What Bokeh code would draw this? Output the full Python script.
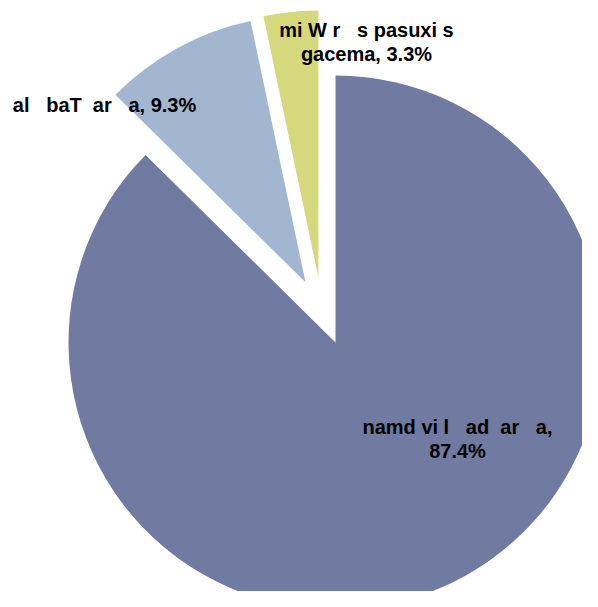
import math
from bokeh.plotting import figure
from bokeh.models import Range1d, ColumnDataSource
from bokeh.core.properties import value
from bokeh.embed import file_html
from bokeh.resources import INLINE

NB = "\u00a0"

# ---- data ----
categories = ["namd vi l   ad  ar   a", "al   baT  ar   a", "mi W r   s pasuxi s gacema"]
shares = [87.4, 9.3, 3.3]
label_lines = [
    ["namd vi l   ad  ar   a,", "87.4%"],
    ["al   baT  ar   a, 9.3%"],
    ["mi W r   s pasuxi s", "gacema, 3.3%"],
]

# ---- style ----
colors = ["#717AA1", "#A2B7CF", "#D5D97B"]
explode_dist = [0.0, 0.252, 0.252]
explode_dir = [0.0, 116.5, 104.7]  # degrees
label_pos = [(0.457, -0.318), (-0.865, 0.888), (0.116, 1.169)]
line_step = 0.09

p = figure(width=582, height=591, output_backend="svg", toolbar_location=None,
           x_range=Range1d(-1.2547, 0.9251), y_range=Range1d(-0.9326, 1.2809),
           min_border=0)
p.axis.visible = False
p.grid.visible = False
p.outline_line_color = None
p.background_fill_color = "white"
p.border_fill_color = "white"

total = sum(shares)
start = 90.0
xs, ys, sa, ea = [], [], [], []
for i, v in enumerate(shares):
    sweep = 360.0 * v / total
    end = start - sweep
    d = explode_dist[i]
    a = math.radians(explode_dir[i])
    xs.append(d * math.cos(a))
    ys.append(d * math.sin(a))
    sa.append(math.radians(start))
    ea.append(math.radians(end))
    start = end

src = ColumnDataSource(dict(x=xs, y=ys, start=sa, end=ea, color=colors, cat=categories))
p.wedge(x="x", y="y", radius=1.0, start_angle="start", end_angle="end",
        direction="clock", fill_color="color", line_color=None, source=src)

tx, ty, tt = [], [], []
for i, lines in enumerate(label_lines):
    cx, cy = label_pos[i]
    for j, s in enumerate(lines):
        tx.append(cx)
        ty.append(cy - j * line_step)
        tt.append(s.replace(" ", NB))
p.text(x=tx, y=ty, text=tt, text_align="center", text_baseline="middle",
       text_font=value("Liberation Sans"), text_font_style="bold",
       text_font_size="20px", text_color="black")

open("out.html", "w").write(file_html(p, INLINE))
